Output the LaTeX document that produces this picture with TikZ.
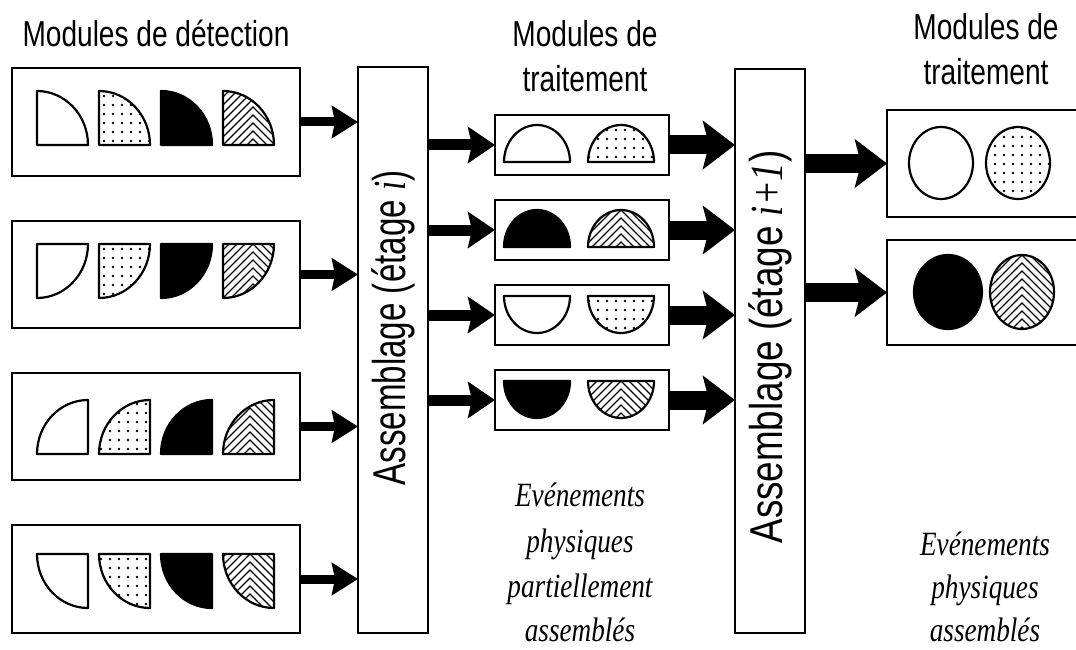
\documentclass[tikz,border=0pt]{standalone}
\usepackage{graphicx}
\usepackage{fontspec}
\setmainfont{Liberation Serif}
\newfontfamily\sansf{Liberation Sans}
\usetikzlibrary{arrows.meta}
\tikzset{
  box/.style={draw, line width=2.6pt, inner sep=0pt, outer sep=0pt},
  shp/.style={line width=2.2pt, line join=round},
  hl/.style={line width=1.2pt},
  arrS/.style={line width=9pt, -{Stealth[length=26pt,width=32pt,inset=3pt]}},
  arrM/.style={line width=11pt, -{Stealth[length=27pt,width=36pt,inset=4pt]}},
  arrL/.style={line width=19pt, -{Stealth[length=32pt,width=48pt,inset=6pt]}},
  lbl/.style={inner sep=0pt, anchor=base},
}
\newcommand\ttl[1]{{\sansf\fontsize{36}{36}\selectfont\scalebox{0.78}[1]{#1}}}
\newcommand\itl[1]{{\fontsize{34}{34}\selectfont\itshape\scalebox{0.8}[1]{#1}}}
% chevrons: apex x, top y
\newcommand\chev[2]{\foreach \k in {0,...,16}{\pgfmathsetmacro\yy{#2-40+8*\k}\draw[hl] ({#1-80},{\yy+80}) -- (#1,\yy) -- ({#1+80},{\yy+80});}}
% dot grid: left x, top y
\newcommand\dotgrid[2]{\foreach \i in {0,...,8}{\foreach \j in {0,...,8}{\fill ({#1+9*\i},{#2+9*\j}) circle[radius=1.3];}}}
% quarter shapes: corner x, corner y, start angle
\newcommand\qwhite[3]{\draw[shp,fill=white] (#1,#2) -- ++(#3:51 and 54) arc[start angle=#3,delta angle=90,x radius=51,y radius=54] -- cycle;}
\newcommand\qblack[3]{\draw[shp,fill=black] (#1,#2) -- ++(#3:51 and 54) arc[start angle=#3,delta angle=90,x radius=51,y radius=54] -- cycle;}
\newcommand\qdots[5]{\begin{scope}\clip (#1,#2) -- ++(#3:51 and 54) arc[start angle=#3,delta angle=90,x radius=51,y radius=54] -- cycle;\dotgrid{#4}{#5}\end{scope}
  \draw[shp] (#1,#2) -- ++(#3:51 and 54) arc[start angle=#3,delta angle=90,x radius=51,y radius=54] -- cycle;}
\newcommand\qhatch[5]{\begin{scope}\clip (#1,#2) -- ++(#3:51 and 54) arc[start angle=#3,delta angle=90,x radius=51,y radius=54] -- cycle;\chev{#4}{#5}\end{scope}
  \draw[shp] (#1,#2) -- ++(#3:51 and 54) arc[start angle=#3,delta angle=90,x radius=51,y radius=54] -- cycle;}
% half shapes: center x, flat y, end angle (360 dome, 0 bowl)
\newcommand\hwhite[3]{\draw[shp,fill=white] ({#1-33},#2) arc[start angle=180,end angle=#3,x radius=33,y radius=37] -- cycle;}
\newcommand\hblack[3]{\draw[shp,fill=black] ({#1-33},#2) arc[start angle=180,end angle=#3,x radius=33,y radius=37] -- cycle;}
\newcommand\hdots[4]{\begin{scope}\clip ({#1-33},#2) arc[start angle=180,end angle=#3,x radius=33,y radius=37] -- cycle;\dotgrid{#1-32}{#4}\end{scope}
  \draw[shp] ({#1-33},#2) arc[start angle=180,end angle=#3,x radius=33,y radius=37] -- cycle;}
\newcommand\hhatch[4]{\begin{scope}\clip ({#1-33},#2) arc[start angle=180,end angle=#3,x radius=33,y radius=37] -- cycle;\chev{#1}{#4}\end{scope}
  \draw[shp] ({#1-33},#2) arc[start angle=180,end angle=#3,x radius=33,y radius=37] -- cycle;}
\begin{document}
\begin{tikzpicture}[x=1pt,y=-1pt]
\clip (0,0) rectangle (1076,650);
\fill[white] (0,0) rectangle (1076,650);

% titles
\node[lbl] (t1) at (156,47) {\ttl{Modules de détection}};
\node[lbl] (t2a) at (585,47) {\ttl{Modules de}};
\node[lbl] (t2b) at (585,92) {\ttl{traitement}};
\node[lbl] (t3a) at (986,40) {\ttl{Modules de}};
\node[lbl] (t3b) at (986,85) {\ttl{traitement}};

% detection boxes
\node[box, minimum width=288pt, minimum height=108pt] (d1) at (156,122) {};
\node[box, minimum width=288pt, minimum height=107pt] (d2) at (156,274.5) {};
\node[box, minimum width=288pt, minimum height=107pt] (d3) at (156,426.5) {};
\node[box, minimum width=288pt, minimum height=108pt] (d4) at (156,579) {};

% assembly boxes
\node[box, minimum width=70pt, minimum height=566pt] (ai) at (393,350) {};
\node[rotate=90, inner sep=0pt] (tai) at (393,328) {\sansf\fontsize{46}{46}\selectfont\scalebox{0.72}[1]{Assemblage (étage {\rmfamily\itshape i})}};
\node[box, minimum width=70pt, minimum height=564pt] (aj) at (770,351) {};
\node[rotate=90, inner sep=0pt] (taj) at (770,347) {\sansf\fontsize{46}{46}\selectfont\scalebox{0.8}[1]{Assemblage (étage {\rmfamily\itshape i+1})}};

% processing boxes
\node[box, minimum width=174pt, minimum height=60pt] (m1) at (582,145) {};
\node[box, minimum width=174pt, minimum height=60pt] (m2) at (582,230) {};
\node[box, minimum width=174pt, minimum height=60pt] (m3) at (582,315) {};
\node[box, minimum width=174pt, minimum height=60pt] (m4) at (582,400) {};

% final boxes
\node[box, minimum width=198pt, minimum height=107pt] (r1) at (986,163.5) {};
\node[box, minimum width=198pt, minimum height=105pt] (r2) at (986,292.5) {};

% quarter shapes row 1 (corner bottom-left)
\qwhite{37}{145}{-90}
\qdots{99}{145}{-90}{104}{96}
\qblack{161}{145}{-90}
\qhatch{223}{145}{-90}{253}{91}
% row 2 (corner top-left)
\qwhite{37}{244}{0}
\qdots{99}{244}{0}{104}{249}
\qblack{161}{244}{0}
\qhatch{223}{244}{0}{253}{244}
% row 3 (corner bottom-right)
\qwhite{88}{454}{180}
\qdots{150}{454}{180}{101}{404}
\qblack{212}{454}{180}
\qhatch{274}{454}{180}{250}{400}
% row 4 (corner top-right)
\qwhite{88}{554}{90}
\qdots{150}{554}{90}{101}{559}
\qblack{212}{554}{90}
\qhatch{274}{554}{90}{250}{554}

% half shapes
\hwhite{537}{162}{360}
\hdots{621}{162}{360}{130}
\hblack{537}{247}{360}
\hhatch{621}{247}{360}{210}
\hwhite{537}{296}{0}
\hdots{621}{296}{0}{301}
\hblack{537}{381}{0}
\hhatch{621}{381}{0}{381}

% circles
\draw[shp,fill=white] (941,163) ellipse[x radius=32,y radius=36];
\begin{scope}\clip (1018,163) ellipse[x radius=32,y radius=36];\dotgrid{986}{128}\end{scope}
\draw[shp] (1018,163) ellipse[x radius=32,y radius=36];
\draw[shp,fill=black] (948,292) ellipse[x radius=34,y radius=37];
\begin{scope}\clip (1022,292) ellipse[x radius=32,y radius=37];\chev{1022}{255}\end{scope}
\draw[shp] (1022,292) ellipse[x radius=32,y radius=37];

% arrows
\draw[arrS] (d1.east) -- (d1.east -| ai.west);
\draw[arrS] (d2.east) -- (d2.east -| ai.west);
\draw[arrS] (d3.east) -- (d3.east -| ai.west);
\draw[arrS] (d4.east) -- (d4.east -| ai.west);
\draw[arrM] (ai.east |- m1.west) -- (m1.west);
\draw[arrM] (ai.east |- m2.west) -- (m2.west);
\draw[arrM] (ai.east |- m3.west) -- (m3.west);
\draw[arrM] (ai.east |- m4.west) -- (m4.west);
\draw[arrL] (m1.east) -- (m1.east -| aj.west);
\draw[arrL] (m2.east) -- (m2.east -| aj.west);
\draw[arrL] (m3.east) -- (m3.east -| aj.west);
\draw[arrL] (m4.east) -- (m4.east -| aj.west);
\draw[arrL] (aj.east |- r1.west) -- (r1.west);
\draw[arrL] (aj.east |- r2.west) -- (r2.west);

% italic captions
\node[lbl] (e1) at (580,506) {\itl{Evénements}};
\node[lbl] (e2) at (580,552) {\itl{physiques}};
\node[lbl] (e3) at (580,597) {\itl{partiellement}};
\node[lbl] (e4) at (580,641) {\itl{assemblés}};
\node[lbl] (f1) at (985,555) {\itl{Evénements}};
\node[lbl] (f2) at (985,598) {\itl{physiques}};
\node[lbl] (f3) at (985,641) {\itl{assemblés}};
\end{tikzpicture}
\end{document}
